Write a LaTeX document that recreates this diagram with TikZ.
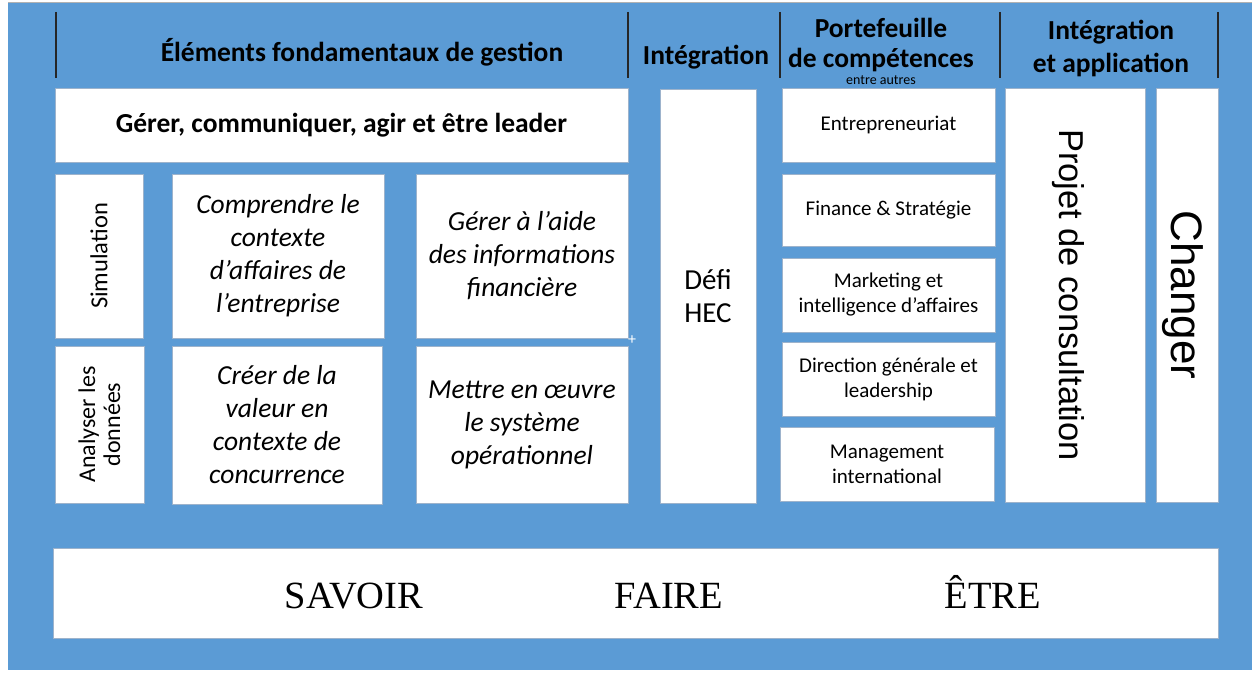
\documentclass[tikz,border=0pt]{standalone}
\usepackage{fontspec}
\setmainfont{Carlito}
\newfontfamily\arialf{Liberation Sans}
\newfontfamily\timesf{Liberation Serif}
\definecolor{bgblue}{HTML}{5B9BD5}
\definecolor{boxedge}{HTML}{9DB3CC}
\tikzset{
  box/.style={draw=boxedge, line width=0.8pt, fill=white, inner sep=0pt},
  hdr/.style={font=\fontsize{27.5}{33}\selectfont\bfseries, align=center, inner sep=0pt},
  hline/.style={line width=1.8pt, black!85},
  ital/.style={font=\fontsize{27.5}{33}\selectfont\itshape, align=center, inner sep=0pt},
  small/.style={font=\fontsize{21}{25}\selectfont, align=center, inner sep=0pt},
  lbl/.style={inner sep=0pt, align=center},
  big/.style={inner sep=0pt, anchor=base, font=\timesf\fontsize{38.5}{42}\selectfont}
}
\begin{document}
\begin{tikzpicture}[x=1pt,y=-1pt]
\useasboundingbox (0,0) rectangle (1252,674);
\fill[white] (0,0) rectangle (1252,674);
\fill[bgblue] (8,3) rectangle (1252,670);
\draw[black!30, line width=1pt] (8,3) -- (1252,3);
% header separators
\coordinate (l1t) at (56,12); \coordinate (l1b) at (56,78);
\coordinate (l2t) at (628,12); \coordinate (l2b) at (628,78);
\coordinate (l3t) at (780,12); \coordinate (l3b) at (780,78);
\coordinate (l4t) at (1000,12); \coordinate (l4b) at (1000,78);
\coordinate (l5t) at (1218,12); \coordinate (l5b) at (1218,78);
\draw[hline] (l1t) -- (l1b);
\draw[hline] (l2t) -- (l2b);
\draw[hline] (l3t) -- (l3b);
\draw[hline] (l4t) -- (l4b);
\draw[hline] (l5t) -- (l5b);
% headers
\node[hdr] (h1) at (362,52) {Éléments fondamentaux de gestion};
\node[hdr] (h2) at (706,57) {Intégration};
\node[hdr] (h3a) at (881,28) {Portefeuille};
\node[hdr] (h3b) at (881,60) {de compétences};
\node[lbl, font=\fontsize{14}{15}\selectfont] (h3c) at (881,80) {entre autres};
\node[hdr] (h4a) at (1111,32) {Intégration};
\node[hdr] (h4b) at (1111,65) {et application};
% boxes
\node[box, minimum width=573, minimum height=74, font=\fontsize{27.5}{30}\selectfont\bfseries] (gerer) at (341.5,125) {Gérer, communiquer, agir et être leader};
\node[box, minimum width=88, minimum height=164] (simu) at (99,256) {};
\node[lbl, rotate=90, font=\fontsize{24.5}{26}\selectfont] (simut) at (simu.center) {Simulation};
\node[box, minimum width=212, minimum height=164, ital] (compr) at (278,256) {Comprendre le\\contexte\\d’affaires de\\l’entreprise};
\node[box, minimum width=212, minimum height=164, ital] (aide) at (522,256) {Gérer à l’aide\\des informations\\financière};
\node[box, minimum width=89, minimum height=157] (analy) at (99.5,424.5) {};
\node[lbl, rotate=90, font=\fontsize{24}{25}\selectfont] (analyt) at (analy.center) {Analyser les\\données};
\node[box, minimum width=210, minimum height=158, ital] (creer) at (277,425) {Créer de la\\valeur en\\contexte de\\concurrence};
\node[box, minimum width=212, minimum height=157, ital] (mettre) at (522,424.5) {Mettre en œuvre\\le système\\opérationnel};
\node[lbl, white, font=\fontsize{16}{16}\selectfont] (plus) at (632,340) {+};
\node[box, minimum width=96, minimum height=414, font=\fontsize{29}{33}\selectfont, align=center] (defi) at (708,296) {Défi\\HEC};
\node[box, minimum width=213, minimum height=74, small] (entre) at (888.5,125) {\raisebox{-2pt}{Entrepreneuriat}};
\node[box, minimum width=213, minimum height=72, small] (fin) at (888.5,210) {\raisebox{-2pt}{Finance \& Stratégie}};
\node[box, minimum width=213, minimum height=74, small] (mark) at (888.5,295) {Marketing et\\intelligence d’affaires};
\node[box, minimum width=213, minimum height=74, small] (dir) at (888.5,379) {Direction générale et\\leadership};
\node[box, minimum width=214, minimum height=74, small] (mgmt) at (887,464) {Management\\international};
\node[box, minimum width=140, minimum height=414] (projet) at (1075,295) {};
\node[lbl, rotate=-90, font=\arialf\fontsize{34.5}{40}\selectfont] (projett) at (1068,295) {Projet de consultation};
\node[box, minimum width=62, minimum height=414] (chg) at (1187,295) {};
\node[lbl, rotate=-90, font=\arialf\fontsize{44}{50}\selectfont] (chgt) at (1183,295) {Changer};
% bottom
\node[box, minimum width=1165, minimum height=90] (bottom) at (635.5,593) {};
\node[big] (savoir) at (354,608) {SAVOIR};
\node[big] (faire) at (669,608) {FAIRE};
\node[big] (etre) at (993,608) {ÊTRE};
\end{tikzpicture}
\end{document}
